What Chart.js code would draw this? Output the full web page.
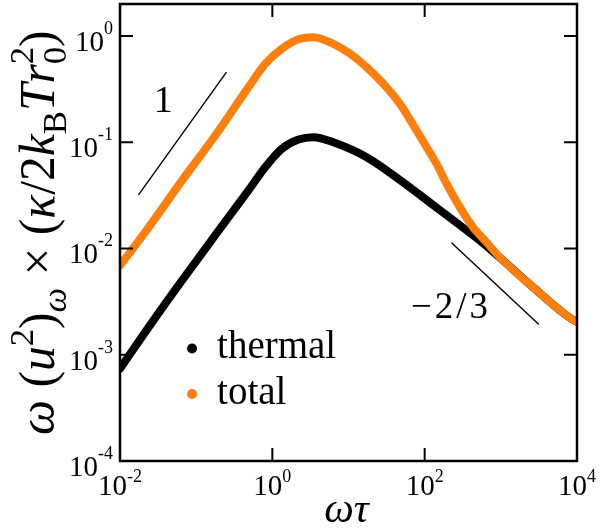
<!DOCTYPE html>
<html>
<head>
<meta charset="utf-8">
<script src="https://cdn.jsdelivr.net/npm/chart.js@4.4.0/dist/chart.umd.min.js"></script>
<style>
  html, body { margin: 0; padding: 0; background: #fff; }
  canvas { display: block; }
</style>
</head>
<body>
<canvas id="chart" width="614" height="528"></canvas>
<script>
// values (omega*tau, spectrum)
const totalX = [0.01, 0.0238, 0.0653, 0.178, 0.486, 0.805, 1.33, 2.2, 3.46, 6.32, 10.5, 17.3, 28.6, 47.3, 78.3, 106, 143, 194, 289, 432, 647, 966, 2636, 8395, 10000];
const totalY = [0.0069, 0.0158, 0.0437, 0.1156, 0.33, 0.547, 0.759, 0.933, 0.975, 0.845, 0.679, 0.508, 0.355, 0.230, 0.129, 0.0897, 0.0627, 0.0406, 0.0245, 0.0158, 0.01146, 0.00828, 0.00433, 0.00218, 0.00204];
const thermalX = [0.01, 0.0238, 0.0653, 0.178, 0.486, 0.805, 1.33, 2.2, 3.46, 6.32, 17.3, 47.3, 129, 289, 528, 966, 2636, 8395, 10000];
const thermalY = [0.00074, 0.00182, 0.00501, 0.01334, 0.0352, 0.0582, 0.0867, 0.106, 0.1117, 0.1, 0.0723, 0.0442, 0.0257, 0.0166, 0.0119, 0.00822, 0.00433, 0.00218, 0.00204];

// guide lines for the power laws
const slopeOneX = [0.0175, 0.25];
const slopeOneY = [0.032, 0.457];
const slopeTwoThirdsX = [225, 3162];
const slopeTwoThirdsY = [0.01132, 0.00193];

const xTicks = [1e-2, 1e0, 1e2, 1e4];
const xTickExp = ['-2', '0', '2', '4'];
const yTicks = [1e-4, 1e-3, 1e-2, 1e-1, 1e0];
const yTickExp = ['-4', '-3', '-2', '-1', '0'];

const seriesNames = ['thermal', 'total'];
const seriesColors = ['#000000', '#ff7f0e'];

const SERIF = '"Liberation Serif"';

const toPts = (xs, ys) => xs.map((x, i) => ({ x: x, y: ys[i] }));

// draws a little formula made of pieces (italic / roman / sub / sup)
function drawPieces(ctx, pieces, x, y, size, measureOnly) {
  let cx = x;
  let stackW = 0;
  pieces.forEach(p => {
    const small = p.sub || p.sup;
    const fs = small ? size * 0.7 : size;
    ctx.font = (p.it ? 'italic ' : '') + fs.toFixed(1) + 'px ' + SERIF;
    const w = ctx.measureText(p.t).width;
    const dy = p.sup ? -size * 0.42 : (p.sub ? size * 0.24 : 0);
    if (!measureOnly) ctx.fillText(p.t, cx, y + dy);
    if (p.stack) {
      stackW = w;
    } else {
      cx += Math.max(w, stackW);
      stackW = 0;
    }
  });
  return cx - x;
}

const yTitle = [
  { t: 'ω', it: true }, { t: ' (' }, { t: 'u', it: true }, { t: '2', sup: true },
  { t: ')' }, { t: 'ω', it: true, sub: true }, { t: ' × (' }, { t: 'κ', it: true },
  { t: '/2' }, { t: 'k', it: true }, { t: 'B', sub: true }, { t: 'T', it: true },
  { t: 'r', it: true }, { t: '0', sub: true, stack: true }, { t: '2', sup: true }, { t: ')' }
];

const overlay = {
  id: 'overlay',
  afterDraw(chart) {
    const ctx = chart.ctx;
    const a = chart.chartArea;
    const xs = chart.scales.x;
    const ys = chart.scales.y;
    ctx.save();
    ctx.fillStyle = '#000';
    ctx.strokeStyle = '#000';

    // frame + inward ticks
    ctx.lineWidth = 2;
    const tl = 13;
    ctx.beginPath();
    xTicks.forEach(v => {
      const px = xs.getPixelForValue(v);
      ctx.moveTo(px, a.bottom); ctx.lineTo(px, a.bottom - tl);
      ctx.moveTo(px, a.top); ctx.lineTo(px, a.top + tl);
    });
    yTicks.forEach(v => {
      const py = ys.getPixelForValue(v);
      ctx.moveTo(a.left, py); ctx.lineTo(a.left + tl, py);
      ctx.moveTo(a.right, py); ctx.lineTo(a.right - tl, py);
    });
    ctx.stroke();
    ctx.lineWidth = 2.5;
    ctx.strokeRect(a.left, a.top, a.right - a.left, a.bottom - a.top);

    // tick labels 10^n
    ctx.textBaseline = 'alphabetic';
    ctx.textAlign = 'left';
    const big = 29, sup = 18;
    xTicks.forEach((v, i) => {
      const px = xs.getPixelForValue(v);
      ctx.font = big + 'px ' + SERIF;
      const w1 = ctx.measureText('10').width;
      ctx.font = sup + 'px ' + SERIF;
      const w2 = ctx.measureText(xTickExp[i]).width;
      const x0 = px - (w1 + w2) / 2;
      ctx.font = big + 'px ' + SERIF;
      ctx.fillText('10', x0, a.bottom + 34);
      ctx.font = sup + 'px ' + SERIF;
      ctx.fillText(xTickExp[i], x0 + w1, a.bottom + 21);
    });
    yTicks.forEach((v, i) => {
      const py = ys.getPixelForValue(v);
      ctx.font = sup + 'px ' + SERIF;
      const w2 = ctx.measureText(yTickExp[i]).width;
      ctx.font = big + 'px ' + SERIF;
      const w1 = ctx.measureText('10').width;
      const x0 = a.left - 7 - w2 - w1;
      ctx.fillText('10', x0, py + 15);
      ctx.font = sup + 'px ' + SERIF;
      ctx.fillText(yTickExp[i], x0 + w1, py - 2);
    });

    // axis titles
    ctx.font = 'italic 42px ' + SERIF;
    ctx.textAlign = 'center';
    ctx.fillText('ωτ', (a.left + a.right) / 2 - 2, 522);

    ctx.textAlign = 'left';
    const tSize = 40;
    const tw = drawPieces(ctx, yTitle, 0, 0, tSize, true);
    const fit = 405 / tw;
    ctx.save();
    ctx.translate(54, (a.top + a.bottom) / 2);
    ctx.rotate(-Math.PI / 2);
    drawPieces(ctx, yTitle, -tw * fit / 2, 0, tSize * fit, false);
    ctx.restore();

    // slope labels
    ctx.textAlign = 'center';
    ctx.font = '38px ' + SERIF;
    ctx.fillText('1', xs.getPixelForValue(0.037), ys.getPixelForValue(0.252) + 12);
    ctx.font = '37px ' + SERIF;
    ctx.letterSpacing = '3px';
    ctx.fillText('−2/3', xs.getPixelForValue(209) + 2, ys.getPixelForValue(0.0029) + 12);
    ctx.letterSpacing = '0px';

    // legend
    ctx.textAlign = 'left';
    const lx = xs.getPixelForValue(0.0883);
    const rows = [ys.getPixelForValue(0.001145), ys.getPixelForValue(0.000427)];
    rows.forEach((py, i) => {
      ctx.fillStyle = seriesColors[i];
      ctx.beginPath();
      ctx.arc(lx, py, 5, 0, Math.PI * 2);
      ctx.fill();
      ctx.fillStyle = '#000';
      ctx.font = '39px ' + SERIF;
      ctx.fillText(seriesNames[i], lx + 25, py + 10);
    });
    ctx.restore();
  }
};

const curve = (label, pts, color, order) => ({
  label: label,
  data: pts,
  showLine: true,
  borderColor: color,
  backgroundColor: color,
  borderWidth: 8,
  pointRadius: 0,
  cubicInterpolationMode: 'monotone',
  borderCapStyle: 'round',
  borderJoinStyle: 'round',
  clip: 0,
  order: order
});

const guide = (pts) => ({
  data: pts,
  showLine: true,
  borderColor: '#000',
  borderWidth: 1.4,
  pointRadius: 0,
  tension: 0,
  order: 3
});

new Chart(document.getElementById('chart'), {
  type: 'scatter',
  data: {
    datasets: [
      curve('total', toPts(totalX, totalY), seriesColors[1], 0),
      curve('thermal', toPts(thermalX, thermalY), seriesColors[0], 1),
      guide(toPts(slopeOneX, slopeOneY)),
      guide(toPts(slopeTwoThirdsX, slopeTwoThirdsY))
    ]
  },
  options: {
    responsive: false,
    animation: false,
    layout: { padding: { left: 0, right: 37, top: 4, bottom: 0 } },
    plugins: { legend: { display: false }, tooltip: { enabled: false } },
    scales: {
      x: {
        type: 'logarithmic', min: 0.01, max: 10000,
        ticks: { display: false }, grid: { display: false }, border: { display: false },
        afterFit: s => { s.height = 67; }
      },
      y: {
        type: 'logarithmic', min: 1e-4, max: 2,
        ticks: { display: false }, grid: { display: false }, border: { display: false },
        afterFit: s => { s.width = 120; }
      }
    }
  },
  plugins: [overlay]
});
</script>
</body>
</html>
